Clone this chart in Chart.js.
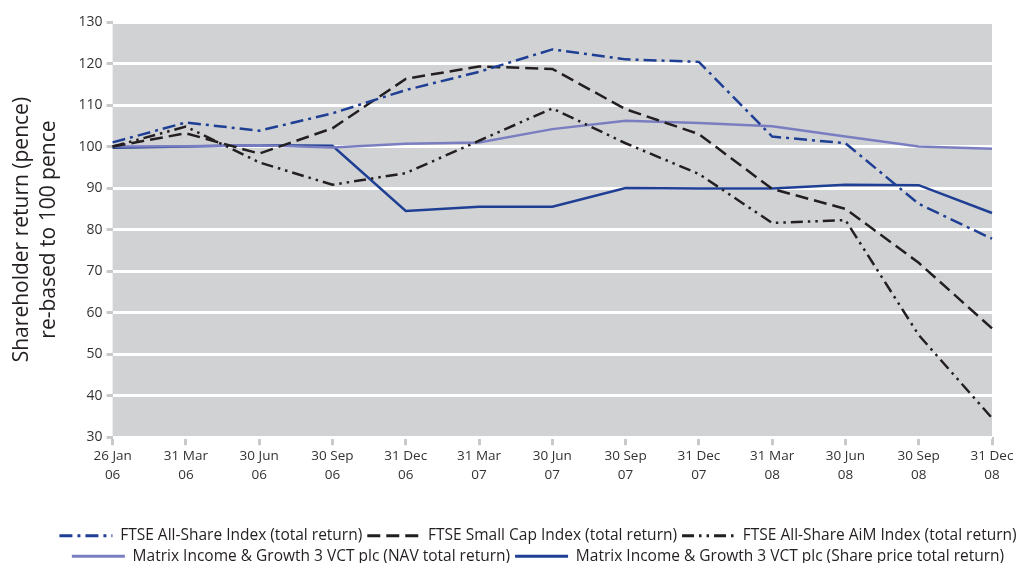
<!DOCTYPE html>
<html>
<head>
<meta charset="utf-8">
<script src="https://cdn.jsdelivr.net/npm/chart.js@4.4.0/dist/chart.umd.min.js"></script>
<style>
  html, body { margin: 0; padding: 0; background: #fff; overflow: hidden; }
  #wrap { width: 1024px; height: 563px; overflow: hidden; }
</style>
</head>
<body>
<div id="wrap"><canvas id="chart" width="1024" height="574"></canvas></div>
<script>
// quarter-end dates (two-line tick labels)
var dates = [
  ["26 Jan", "06"], ["31 Mar", "06"], ["30 Jun", "06"], ["30 Sep", "06"],
  ["31 Dec", "06"], ["31 Mar", "07"], ["30 Jun", "07"], ["30 Sep", "07"],
  ["31 Dec", "07"], ["31 Mar", "08"], ["30 Jun", "08"], ["30 Sep", "08"],
  ["31 Dec", "08"]
];

var ftseAllShare = [101, 105.8, 103.8, 108, 113.6, 118, 123.4, 121, 120.4, 102.4, 100.8, 86.2, 77.8];
var ftseSmallCap = [100, 103.2, 98.3, 104.4, 116.3, 119.3, 118.7, 109, 103, 89.8, 85, 72, 56.2];
var ftseAim      = [100, 104.8, 96.2, 90.8, 93.6, 101.4, 109.2, 100.8, 93.4, 81.6, 82.3, 54.6, 34.6];
var navReturn    = [100, 100.1, 100.3, 99.8, 100.7, 101, 104.2, 106.2, 105.7, 104.9, 102.4, 100, 99.5];
var sharePrice   = [99.7, 100, 100.3, 100.2, 84.5, 85.5, 85.5, 90, 89.9, 89.9, 90.8, 90.7, 84];

var seriesNames = [
  "FTSE All-Share Index (total return)",
  "FTSE Small Cap Index (total return)",
  "FTSE All-Share AiM Index (total return)",
  "Matrix Income & Growth 3 VCT plc (NAV total return)",
  "Matrix Income & Growth 3 VCT plc (Share price total return)"
];

var yTitle = ["Shareholder return (pence)", "re-based to 100 pence"];

// grey plot background, and nudge the legend to the right like the original
var plotBg = {
  id: "plotBg",
  afterLayout: function (chart) {
    if (chart.legend) {
      chart.legend.left += 38;
      chart.legend.right += 38;
    }
  },
  beforeDraw: function (chart) {
    var a = chart.chartArea, ctx = chart.ctx;
    ctx.save();
    ctx.fillStyle = "#d1d2d4";
    ctx.fillRect(a.left, a.top, a.right - a.left, a.bottom - a.top);
    ctx.restore();
  }
};

function line(label, data, color, dash, width) {
  return {
    label: label,
    data: data,
    borderColor: color,
    backgroundColor: color,
    borderDash: dash,
    borderWidth: width,
    pointRadius: 0,
    tension: 0,
    fill: false
  };
}

var font = "'Open Sans', 'Noto Sans', sans-serif";

new Chart(document.getElementById("chart"), {
  type: "line",
  data: {
    labels: dates,
    datasets: [
      line(seriesNames[0], ftseAllShare, "#1f3f95", [13, 5, 3, 5], 2.5),
      line(seriesNames[1], ftseSmallCap, "#231f20", [13, 6], 2.5),
      line(seriesNames[2], ftseAim, "#231f20", [12, 5, 2.5, 5, 2.5, 5], 2.5),
      line(seriesNames[3], navReturn, "#7a7ec0", [], 2.5),
      line(seriesNames[4], sharePrice, "#1f3f95", [], 2.5)
    ]
  },
  plugins: [plotBg],
  options: {
    responsive: false,
    animation: false,
    layout: { padding: { left: 8, right: 32, top: 22, bottom: 0 } },
    plugins: {
      tooltip: { enabled: false },
      legend: {
        position: "bottom",
        labels: {
          usePointStyle: true,
          pointStyle: "line",
          pointStyleWidth: 53,
          color: "#231f20",
          padding: 5,
          font: { family: font, size: 15.5 },
          // point-style legend items lose the dash, so take it from the dataset
          generateLabels: function (chart) {
            var items = Chart.defaults.plugins.legend.labels.generateLabels(chart);
            items.forEach(function (it) {
              var ds = chart.data.datasets[it.datasetIndex];
              it.lineDash = ds.borderDash;
              it.lineWidth = 3;
              it.strokeStyle = ds.borderColor;
              it.pointStyle = "line";
            });
            return items;
          }
        }
      }
    },
    scales: {
      x: {
        offset: false,
        border: { display: false },
        grid: {
          drawOnChartArea: false,
          drawTicks: true,
          tickLength: 8,
          tickColor: "#c8c9cb",
          lineWidth: 3
        },
        ticks: {
          color: "#333",
          maxRotation: 0,
          autoSkip: false,
          padding: 2,
          font: { family: font, size: 13.5, lineHeight: 1.4 }
        },
        afterFit: function (scale) { scale.height += 36; }
      },
      y: {
        min: 30,
        max: 130,
        border: { display: false },
        grid: {
          color: "#ffffff",
          lineWidth: 3,
          tickColor: "#c8c9cb",
          tickLength: 6
        },
        ticks: {
          stepSize: 10,
          color: "#333",
          padding: 4,
          font: { family: font, size: 14 }
        },
        title: {
          display: true,
          text: yTitle,
          color: "#231f20",
          padding: { top: 0, bottom: 12 },
          font: { family: font, size: 21, lineHeight: 1.3 }
        }
      }
    }
  }
});
</script>
</body>
</html>
